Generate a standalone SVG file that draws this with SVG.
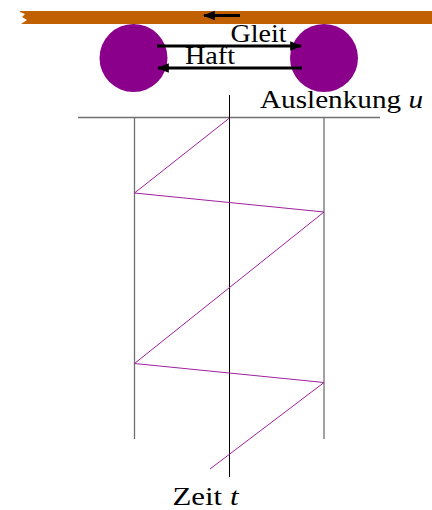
<svg xmlns="http://www.w3.org/2000/svg" width="432" height="510" viewBox="0 0 432 510">
<style>
  text { font-family: "Liberation Serif", "DejaVu Serif", serif; fill: #000; }
  .lbl { font-size: 25px; }
  .grid { stroke: #707070; stroke-width: 1.3; fill: none; }
  .axis { stroke: #000; stroke-width: 1; fill: none; }
  .arr { stroke: #000; stroke-width: 3; fill: none; }
  .mass { fill: #8B008B; }
</style>
<defs>
  <marker id="ah" viewBox="0 0 10 10" refX="9" refY="5" markerWidth="4" markerHeight="4" orient="auto" markerUnits="strokeWidth">
    <path d="M0,1 L10,5 L0,9 Z" fill="#000"/>
  </marker>
</defs>
<g id="belt">
  <polygon points="20,11 432,11 432,24 21,24 27,20 22,17 25,14 20,12" fill="#C06000"/>
  <line class="arr" x1="240" y1="15.5" x2="204" y2="15.5" marker-end="url(#ah)"/>
</g>
<g id="mass-left"><circle class="mass" cx="133.5" cy="58" r="34"/></g>
<g id="mass-right"><circle class="mass" cx="324" cy="58" r="34"/></g>
<g id="connectors">
  <line class="arr" x1="157" y1="46" x2="301" y2="46" marker-end="url(#ah)"/>
  <line class="arr" x1="302" y1="68" x2="158" y2="68" marker-end="url(#ah)"/>
  <line class="grid" x1="78" y1="117.5" x2="380" y2="117.5"/>
  <line class="grid" x1="134.5" y1="117.5" x2="134.5" y2="439"/>
  <line class="grid" x1="324" y1="117.5" x2="324" y2="439"/>
  <line class="axis" x1="229.5" y1="95" x2="229.5" y2="477"/>
  <polyline points="229.5,118 134.5,193 324,212 134.5,363.5 324,382.5 210,469" fill="none" stroke="#A020A0" stroke-width="1"/>
</g>
<g id="labels">
  <text class="lbl" x="230.5" y="41.5" textLength="56" lengthAdjust="spacingAndGlyphs">Gleit</text>
  <text class="lbl" x="185" y="64" textLength="50" lengthAdjust="spacingAndGlyphs">Haft</text>
  <text class="lbl" x="260" y="108.3" textLength="163" lengthAdjust="spacingAndGlyphs">Auslenkung <tspan font-style="italic">u</tspan></text>
  <text class="lbl" x="172.5" y="505" textLength="66" lengthAdjust="spacingAndGlyphs">Zeit <tspan font-style="italic">t</tspan></text>
</g>
</svg>
